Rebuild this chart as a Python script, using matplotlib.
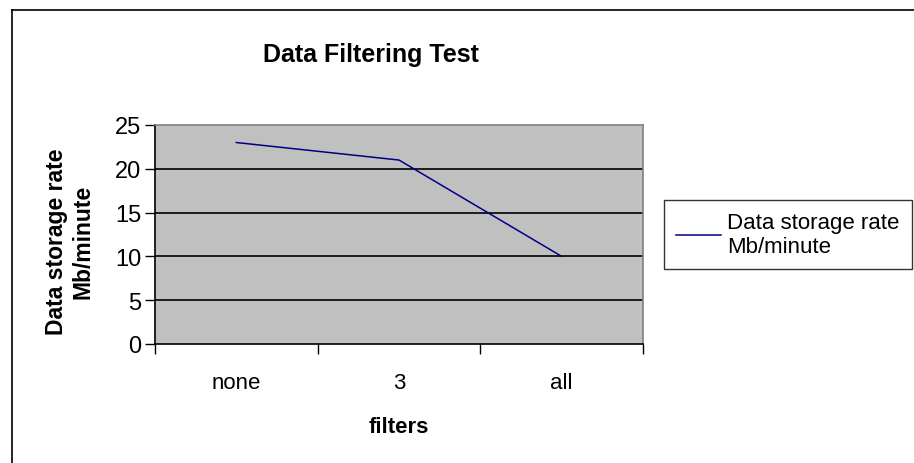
import matplotlib
matplotlib.use("Agg")
import matplotlib.pyplot as plt
from matplotlib.lines import Line2D

# data
categories = ["none", "3", "all"]
rate = [23, 21, 10]
yticks = [0, 5, 10, 15, 20, 25]

W, H = 914, 464
plt.rcParams['font.family'] = ['Liberation Sans', 'DejaVu Sans']

fig = plt.figure(figsize=(W / 100, H / 100), dpi=100)
fig.patch.set_facecolor('white')

# plot area in pixel coords -> figure fractions
left, right, top, bottom = 155, 643, 126, 345
ax = fig.add_axes([left / W, 1 - bottom / H, (right - left) / W, (bottom - top) / H])
ax.set_facecolor('#C0C0C0')

xs = [i + 0.5 for i in range(len(categories))]
ax.plot(xs, rate, color='#000080', lw=1.1, label='Data storage rate\nMb/minute')

ax.set_xlim(0, 3)
ax.set_ylim(0, 25)
ax.set_yticks(yticks)
ax.set_xticks([0, 1, 2, 3])
ax.set_xticklabels([])
ax.set_xticks(xs, minor=True)
ax.set_xticklabels(categories, minor=True)
ax.tick_params(axis='x', which='minor', length=0, pad=20, labelsize=16)
ax.tick_params(axis='x', which='major', direction='out', length=7, width=1, color='black')
ax.tick_params(axis='y', direction='out', length=7, width=1, labelsize=17, pad=3)
for y in yticks[1:-1]:
    ax.axhline(y, color='black', lw=1.2, zorder=1)

for s in ['top', 'right']:
    ax.spines[s].set_color('#808080')
    ax.spines[s].set_linewidth(1.2)
for s in ['left', 'bottom']:
    ax.spines[s].set_color('black')
    ax.spines[s].set_linewidth(1.2)

fig.text(371 / W, 1 - 55 / H, 'Data Filtering Test', ha='center', va='center',
         fontsize=18, fontweight='bold')
fig.text(399 / W, 1 - 428 / H, 'filters', ha='center', va='center',
         fontsize=16, fontweight='bold')
fig.text(70 / W, 1 - 242 / H, 'Data storage rate\nMb/minute', ha='center', va='center',
         rotation=90, fontsize=16.5, fontweight='bold', linespacing=1.2)

leg = fig.legend(loc='center left', bbox_to_anchor=(664 / W, 1 - 235.5 / H),
                 fontsize=16, fancybox=False, frameon=True, handlelength=2.0,
                 borderpad=0.55, handletextpad=0.3, borderaxespad=0)
leg.get_frame().set_edgecolor('black')
leg.get_frame().set_linewidth(1.0)

# outer chart border (left and top visible)
fig.add_artist(Line2D([12 / W, 12 / W], [0, 1 - 11 / H], color='black', lw=1.2))
fig.add_artist(Line2D([12 / W, 1], [1 - 11 / H, 1 - 11 / H], color='black', lw=1.2))

fig.savefig('out.png', dpi=100)
